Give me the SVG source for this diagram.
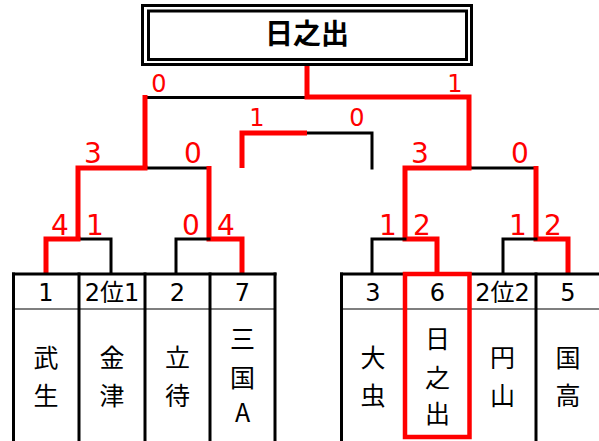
<svg xmlns="http://www.w3.org/2000/svg" width="599" height="441" viewBox="0 0 599 441">
<style>
.bk{fill:none;stroke:#000;stroke-width:3;stroke-linecap:square}
.rd{fill:none;stroke:#ff0000;stroke-width:5;stroke-linejoin:miter}
.thin{stroke:#000;stroke-width:1.2}
.sc{font-family:"DejaVu Sans","Noto Sans CJK JP",sans-serif;font-size:28px;fill:#ff0000;text-anchor:middle}
.sc2{font-family:"DejaVu Sans","Noto Sans CJK JP",sans-serif;font-size:24px;fill:#ff0000;text-anchor:middle}
.num{font-family:"DejaVu Sans","Noto Sans CJK JP",sans-serif;font-size:24px;fill:#000;text-anchor:middle}
.nm{font-family:"Noto Sans CJK JP",sans-serif;font-size:25px;fill:#000;text-anchor:middle}
.ttl{font-family:"Noto Sans CJK JP",sans-serif;font-size:28px;font-weight:bold;fill:#000;text-anchor:middle}
</style>
<rect width="599" height="441" fill="#fff"/>

<g id="connectors">
  <!-- final -->
  <polyline class="bk" points="145,97.5 307,97.5"/>
  <polyline class="rd" points="307,64 307,97 469,97 469,168"/>
  <polyline class="rd" points="145,95 145,168"/>
  <!-- left semi -->
  <polyline class="bk" points="145,168 209,168"/>
  <polyline class="rd" points="147.5,168 78,168 78,239"/>
  <polyline class="rd" points="209,166 209,239 242,239 242,273"/>
  <!-- left QF -->
  <polyline class="bk" points="78,239 111,239 111,273"/>
  <polyline class="rd" points="80.5,239 46,239 46,273"/>
  <polyline class="bk" points="209,239 176,239 176,273"/>
  <!-- third place -->
  <polyline class="bk" points="307,133 372,133 372,168"/>
  <polyline class="rd" points="242,168 242,133 307,133"/>
  <!-- right semi -->
  <polyline class="bk" points="469,168 536,168"/>
  <polyline class="rd" points="471.5,168 405,168 405,239 437,239 437,273"/>
  <polyline class="rd" points="536,166 536,239 568,239 568,273"/>
  <!-- right QF -->
  <polyline class="bk" points="405,239 372,239 372,273"/>
  <polyline class="bk" points="536,239 503,239 503,273"/>
</g>

<g id="scores">
  <text class="sc2" x="159" y="92">0</text>
  <text class="sc2" x="455" y="92">1</text>
  <text class="sc2" x="257" y="126">1</text>
  <text class="sc2" x="357" y="126">0</text>
  <text class="sc" x="93" y="163">3</text>
  <text class="sc" x="193" y="163">0</text>
  <text class="sc" x="60" y="235">4</text>
  <text class="sc" x="95" y="235">1</text>
  <text class="sc" x="191" y="235">0</text>
  <text class="sc" x="226" y="235">4</text>
  <text class="sc" x="420" y="163">3</text>
  <text class="sc" x="520" y="163">0</text>
  <text class="sc" x="388" y="235">1</text>
  <text class="sc" x="422" y="235">2</text>
  <text class="sc" x="518" y="235">1</text>
  <text class="sc" x="553" y="235">2</text>
</g>

<g id="champion">
  <rect x="142.5" y="5.5" width="329" height="59" fill="#fff" stroke="#000" stroke-width="3"/>
  <rect x="148.5" y="11" width="318" height="48.5" fill="none" stroke="#000" stroke-width="3"/>
  <text class="ttl" x="307" y="44">日之出</text>
</g>

<g id="table-left">
  <line class="bk" x1="13.5" y1="274" x2="275" y2="274"/>
  <line class="thin" x1="13.5" y1="309" x2="275" y2="309"/>
  <line class="bk" x1="13.5" y1="274" x2="13.5" y2="445"/>
  <line class="bk" x1="79" y1="274" x2="79" y2="445"/>
  <line class="bk" x1="145" y1="274" x2="145" y2="445"/>
  <line class="bk" x1="210" y1="274" x2="210" y2="445"/>
  <line class="bk" x1="275" y1="274" x2="275" y2="445"/>
</g>
<g id="team-1">
  <text class="num" x="46" y="301">1</text>
  <text class="nm" x="46" y="366.5">武</text>
  <text class="nm" x="46" y="404.5">生</text>
</g>
<g id="team-2-1">
  <text class="num" x="112" y="301">2位1</text>
  <text class="nm" x="112" y="366.5">金</text>
  <text class="nm" x="112" y="404.5">津</text>
</g>
<g id="team-2">
  <text class="num" x="177.5" y="301">2</text>
  <text class="nm" x="177.5" y="366.5">立</text>
  <text class="nm" x="177.5" y="404.5">待</text>
</g>
<g id="team-7">
  <text class="num" x="242.5" y="301">7</text>
  <text class="nm" x="242.5" y="347.5">三</text>
  <text class="nm" x="242.5" y="386.5">国</text>
  <text class="nm" x="242.5" y="422">A</text>
</g>

<g id="table-right">
  <line class="bk" x1="341.5" y1="274" x2="602" y2="274"/>
  <line class="thin" x1="341.5" y1="309" x2="602" y2="309"/>
  <line class="bk" x1="341.5" y1="274" x2="341.5" y2="445"/>
  <line class="bk" x1="536" y1="274" x2="536" y2="445"/>
</g>
<g id="team-3">
  <text class="num" x="373" y="301">3</text>
  <text class="nm" x="373" y="366.5">大</text>
  <text class="nm" x="373" y="404.5">虫</text>
</g>
<g id="team-6">
  <rect x="405" y="274" width="64.5" height="163" fill="none" stroke="#ff0000" stroke-width="4.5"/>
  <text class="num" x="437.5" y="301">6</text>
  <text class="nm" x="437.5" y="347.5">日</text>
  <text class="nm" x="437.5" y="386.5">之</text>
  <text class="nm" x="437.5" y="422.5">出</text>
</g>
<g id="team-2-2">
  <text class="num" x="502.5" y="301">2位2</text>
  <text class="nm" x="502.5" y="366.5">円</text>
  <text class="nm" x="502.5" y="404.5">山</text>
</g>
<g id="team-5">
  <text class="num" x="568" y="301">5</text>
  <text class="nm" x="568" y="366.5">国</text>
  <text class="nm" x="568" y="404.5">高</text>
</g>
</svg>
